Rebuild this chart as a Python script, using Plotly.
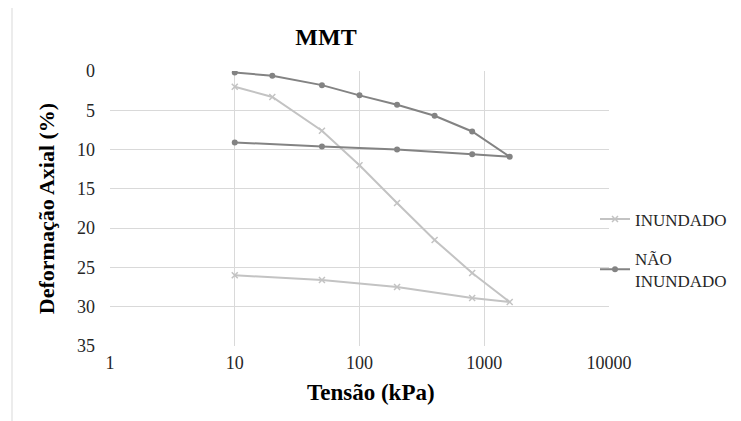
import plotly.graph_objects as go

# Data
tensao = [10, 20, 50, 100, 200, 400, 800, 1600, 800, 200, 50, 10]
inundado = [2.0, 3.3, 7.6, 12.0, 16.8, 21.5, 25.7, 29.4, 28.9, 27.5, 26.6, 26.0]
nao_inundado = [0.2, 0.6, 1.8, 3.1, 4.3, 5.7, 7.7, 10.9, 10.6, 10.0, 9.6, 9.1]
x_ticks = [1, 10, 100, 1000, 10000]
x_tick_text = ["1", "10", "100", "1000", "10000"]
y_ticks = [0, 5, 10, 15, 20, 25, 30, 35]

serif = "Liberation Serif"
c_inund = "#c3c3c3"
c_nao = "#838383"

fig = go.Figure()
fig.add_trace(go.Scatter(
    x=tensao, y=inundado, name="INUNDADO", mode="lines+markers",
    line=dict(color=c_inund, width=2),
    marker=dict(symbol="x-thin", size=6, line=dict(color=c_inund, width=1.5), color=c_inund),
    legendgroup="a",
))
fig.add_trace(go.Scatter(
    x=tensao, y=nao_inundado, name="NÃO<br>INUNDADO", mode="lines+markers",
    line=dict(color=c_nao, width=2),
    marker=dict(symbol="circle", size=6, color=c_nao),
    legendgroup="b",
))

# page body has an 8px margin; lay out in shifted coordinates
OFF = 8
W, H = 741, 421
L, R, T, B = 110 - OFF, 609 - OFF, 71 - OFF, 346 - OFF
PW, PH = R - L, B - T

fig.update_layout(
    width=W, height=H,
    margin=dict(l=L, r=W - R, t=T, b=H - B, autoexpand=False),
    paper_bgcolor="white", plot_bgcolor="white",
    font=dict(family=serif, size=18, color="#262626"),
    title=dict(text="<b>MMT</b>", x=(326 - OFF) / W, xref="container", xanchor="center",
               y=1 - (37 - OFF) / H, yref="container", yanchor="middle",
               font=dict(family=serif, size=24, color="#000000")),
    showlegend=True,
    legend=dict(x=(595 - 110) / 499, xanchor="left", y=(346 - 250) / 275, yanchor="middle",
                font=dict(family=serif, size=17, color="#262626"),
                tracegroupgap=14, bgcolor="rgba(0,0,0,0)"),
    xaxis=dict(type="log", range=[0, 4], tickvals=x_ticks, ticktext=x_tick_text,
               showgrid=True, gridcolor="#d9d9d9", gridwidth=1, zeroline=False,
               showline=False, ticks="", ticklabelstandoff=4,
               tickfont=dict(family=serif, size=18, color="#262626")),
    yaxis=dict(range=[35, 0], tickvals=y_ticks,
               showgrid=True, gridcolor="#d9d9d9", gridwidth=1, zeroline=False,
               showline=False, ticks="", ticklabelstandoff=14,
               tickfont=dict(family=serif, size=18, color="#262626"),
               title=dict(text="<b>Deformação Axial (%)</b>", standoff=16,
                          font=dict(family=serif, size=22, color="#000000"))),
    annotations=[dict(text="<b>Tensão (kPa)</b>", xref="paper", yref="paper",
                      x=(371 - 110) / 499, y=(346 - 392) / 275,
                      xanchor="center", yanchor="middle", showarrow=False,
                      font=dict(family=serif, size=23, color="#000000"))],
    shapes=[dict(type="rect", xref="paper", yref="paper",
                 x0=(12 - 110) / 499, x1=(737 - 110) / 499,
                 y0=-0.5, y1=(346 - 5) / 275,
                 line=dict(color="#d9d9d9", width=1), layer="below")],
)

fig.write_html("out.html")
